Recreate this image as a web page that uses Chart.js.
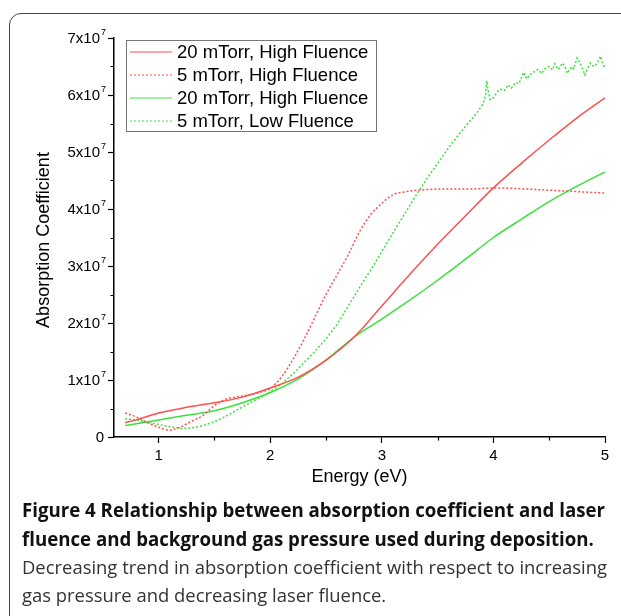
<!DOCTYPE html>
<html>
<head>
<meta charset="utf-8">
<script src="https://cdn.jsdelivr.net/npm/chart.js@4.4.1/dist/chart.umd.min.js"></script>
<style>
  html, body { margin: 0; padding: 0; background: #fff; width: 621px; height: 616px; overflow: hidden; }
  #frame { position: absolute; left: 9px; top: 13px; width: 700px; height: 700px; border: 1.5px solid #444; border-radius: 12px; box-sizing: border-box; }
  #wrap { position: absolute; left: 0; top: 0; width: 621px; height: 500px; }
  .cap { position: absolute; left: 22px; white-space: nowrap; transform-origin: 0 0; font-family: "Open Sans"; font-size: 19px; line-height: 20px; }
  .b { font-weight: 700; color: #111; }
  .n { font-weight: 400; color: #333; }
</style>
</head>
<body>
<div id="frame"></div>
<div id="wrap"><canvas id="chart" width="621" height="500"></canvas></div>
<div class="cap b" id="l1" style="top:500px">Figure 4 Relationship between absorption coefficient and laser</div>
<div class="cap b" id="l2" style="top:529px">fluence and background gas pressure used during deposition.</div>
<div class="cap n" id="l3" style="top:557px">Decreasing trend in absorption coefficient with respect to increasing</div>
<div class="cap n" id="l4" style="top:585px">gas pressure and decreasing laser fluence.</div>
<script>
// energy (eV) and absorption coefficient (x10^7)
const e20High = [0.7, 0.8, 1.0, 1.25, 1.5, 1.75, 2.0, 2.25, 2.5, 2.75, 3.0, 3.25, 3.5, 3.75, 4.0, 4.25, 4.5, 4.75, 5.0];
const a20High = [0.25, 0.3, 0.42, 0.52, 0.6, 0.7, 0.86, 1.05, 1.35, 1.75, 2.3, 2.85, 3.38, 3.88, 4.37, 4.8, 5.21, 5.6, 5.95];

const e5High = [0.7, 0.8, 0.9, 1.0, 1.1, 1.2, 1.3, 1.4, 1.5, 1.6, 1.75, 1.9, 2.0, 2.1, 2.2, 2.3, 2.4, 2.5, 2.6, 2.7, 2.8, 2.9, 3.0, 3.1, 3.2, 3.4, 3.6, 3.8, 4.0, 4.2, 4.4, 4.6, 4.8, 5.0];
const a5High = [0.42, 0.35, 0.25, 0.17, 0.12, 0.18, 0.28, 0.38, 0.55, 0.66, 0.72, 0.78, 0.85, 1.05, 1.35, 1.7, 2.1, 2.5, 2.85, 3.2, 3.6, 3.9, 4.1, 4.25, 4.3, 4.34, 4.35, 4.35, 4.37, 4.36, 4.34, 4.32, 4.3, 4.28];

const e20HighB = [0.7, 1.0, 1.25, 1.5, 1.75, 2.0, 2.25, 2.5, 2.75, 3.0, 3.25, 3.5, 3.75, 4.0, 4.25, 4.5, 4.75, 5.0];
const a20HighB = [0.2, 0.3, 0.38, 0.46, 0.6, 0.78, 1.02, 1.35, 1.75, 2.07, 2.4, 2.75, 3.12, 3.5, 3.82, 4.13, 4.4, 4.65];

const e5Low = [0.7, 0.8, 0.9, 1.0, 1.1, 1.2, 1.3, 1.4, 1.5, 1.6, 1.7, 1.8, 1.9, 2.0, 2.1, 2.2, 2.3, 2.4, 2.5, 2.6, 2.7, 2.8, 2.9, 3.0, 3.1, 3.2, 3.3, 3.4, 3.5, 3.6, 3.7, 3.8, 3.85, 3.88, 3.91, 3.93, 3.94, 3.95, 3.97, 4.0, 4.03, 4.06, 4.1, 4.13, 4.16, 4.2, 4.23, 4.25, 4.27, 4.3, 4.33, 4.36, 4.4, 4.43, 4.46, 4.5, 4.53, 4.55, 4.58, 4.62, 4.64, 4.66, 4.7, 4.72, 4.75, 4.78, 4.82, 4.84, 4.87, 4.9, 4.93, 4.96, 4.98, 5.0];
const a5Low = [0.32, 0.3, 0.26, 0.22, 0.18, 0.15, 0.16, 0.2, 0.27, 0.36, 0.47, 0.58, 0.68, 0.79, 0.93, 1.1, 1.3, 1.5, 1.72, 1.98, 2.3, 2.62, 2.93, 3.25, 3.58, 3.9, 4.22, 4.52, 4.8, 5.08, 5.33, 5.57, 5.68, 5.77, 5.85, 6.0, 6.25, 6.12, 5.92, 5.95, 6.05, 6.1, 6.08, 6.18, 6.12, 6.22, 6.2, 6.3, 6.4, 6.28, 6.36, 6.4, 6.45, 6.38, 6.46, 6.5, 6.44, 6.55, 6.45, 6.56, 6.5, 6.38, 6.5, 6.46, 6.65, 6.55, 6.35, 6.45, 6.56, 6.5, 6.55, 6.68, 6.55, 6.48];

const seriesLabels = ['20 mTorr, High Fluence', '5 mTorr, High Fluence', '20 mTorr, High Fluence', '5 mTorr, Low Fluence'];
const yTickValues = [0, 1, 2, 3, 4, 5, 6, 7];

const red = 'rgb(255,80,80)';
const green = 'rgb(60,225,60)';

function pts(xs, ys) {
  return xs.map((x, i) => ({ x: x, y: ys[i] * 1e7 }));
}

const datasets = [
  { label: seriesLabels[0], data: pts(e20High, a20High), borderColor: red, borderDash: [], cubicInterpolationMode: 'monotone' },
  { label: seriesLabels[1], data: pts(e5High, a5High), borderColor: red, borderDash: [2, 2], cubicInterpolationMode: 'monotone' },
  { label: seriesLabels[2], data: pts(e20HighB, a20HighB), borderColor: green, borderDash: [], cubicInterpolationMode: 'monotone' },
  { label: seriesLabels[3], data: pts(e5Low, a5Low), borderColor: green, borderDash: [2, 2], tension: 0 }
].map(d => Object.assign({ borderWidth: 1.5, pointRadius: 0, fill: false }, d));

const isMajor = v => Math.abs(v - Math.round(v)) < 1e-9;

// y tick labels with superscript, minor ticks, axis title and the boxed legend
const decorations = {
  id: 'decorations',
  afterDraw(chart) {
    const ctx = chart.ctx;
    const xs = chart.scales.x;
    const ys = chart.scales.y;
    const area = chart.chartArea;
    ctx.save();

    // short minor ticks
    ctx.strokeStyle = '#000';
    ctx.lineWidth = 1.2;
    ctx.beginPath();
    xs.ticks.forEach(t => {
      if (!isMajor(t.value) && t.value > xs.min) {
        const px = Math.round(xs.getPixelForValue(t.value)) + 0.5;
        ctx.moveTo(px, area.bottom);
        ctx.lineTo(px, area.bottom + 3.5);
      }
    });
    ys.ticks.forEach(t => {
      if (!isMajor(t.value / 1e7)) {
        const py = Math.round(ys.getPixelForValue(t.value)) + 0.5;
        ctx.moveTo(area.left, py);
        ctx.lineTo(area.left - 3.5, py);
      }
    });
    ctx.stroke();

    ctx.fillStyle = '#000';
    ctx.textBaseline = 'middle';
    yTickValues.forEach(v => {
      const py = ys.getPixelForValue(v * 1e7);
      ctx.textAlign = 'right';
      ctx.font = '15px "Liberation Sans"';
      if (v === 0) {
        ctx.fillText('0', 104, py + 1);
      } else {
        ctx.fillText(v + 'x10', 100, py + 1);
        ctx.textAlign = 'left';
        ctx.font = '9px "Liberation Sans"';
        ctx.fillText('7', 101, py - 5);
      }
    });

    ctx.save();
    ctx.translate(44, 240);
    ctx.rotate(-Math.PI / 2);
    ctx.textAlign = 'center';
    ctx.font = '18px "Liberation Sans"';
    ctx.fillText('Absorption Coefficient', 0, 0);
    ctx.restore();

    ctx.strokeStyle = '#777';
    ctx.lineWidth = 1;
    ctx.strokeRect(126.5, 40.5, 250, 91);
    ctx.font = '18.5px "Liberation Sans"';
    ctx.textAlign = 'left';
    chart.data.datasets.forEach((d, i) => {
      const y = 52 + 23 * i;
      ctx.beginPath();
      ctx.strokeStyle = d.borderColor;
      ctx.lineWidth = 1.2;
      ctx.setLineDash(d.borderDash);
      ctx.moveTo(130, y);
      ctx.lineTo(172, y);
      ctx.stroke();
      ctx.setLineDash([]);
      ctx.fillText(d.label, 177, y + 1);
    });
    ctx.restore();
  }
};

new Chart(document.getElementById('chart'), {
  type: 'line',
  data: { datasets: datasets },
  options: {
    responsive: false,
    animation: false,
    layout: { padding: { left: 0, right: 16, top: 38, bottom: 0 } },
    plugins: { legend: { display: false }, tooltip: { enabled: false } },
    scales: {
      x: {
        type: 'linear',
        min: 0.6,
        max: 5,
        border: { display: true, color: '#000', width: 1.5 },
        grid: {
          drawOnChartArea: false, drawTicks: true, tickLength: 6, tickWidth: 1.2,
          tickColor: c => (c.tick && isMajor(c.tick.value)) ? '#000' : 'rgba(0,0,0,0)'
        },
        ticks: {
          stepSize: 0.5, autoSkip: false, maxRotation: 0, padding: 4, color: '#000',
          font: { family: 'Liberation Sans', size: 15 },
          callback: v => Number.isInteger(v) ? String(v) : ''
        },
        title: { display: true, text: 'Energy (eV)', color: '#000', font: { family: 'Liberation Sans', size: 18 }, padding: { top: 0, bottom: 12 } },
        afterFit: s => { s.height = 63; }
      },
      y: {
        min: 0,
        max: 7e7,
        border: { display: true, color: '#000', width: 1.5 },
        grid: {
          drawOnChartArea: false, drawTicks: true, tickLength: 6, tickWidth: 1.2,
          tickColor: c => (c.tick && isMajor(c.tick.value / 1e7)) ? '#000' : 'rgba(0,0,0,0)'
        },
        ticks: { stepSize: 5e6, autoSkip: false, callback: () => '' },
        afterFit: s => { s.width = 114; }
      }
    }
  },
  plugins: [decorations]
});

// fit the caption lines to the printed widths
function fit(ids, target) {
  const first = document.getElementById(ids[0]);
  const k = target / first.getBoundingClientRect().width;
  ids.forEach(id => { document.getElementById(id).style.transform = 'scaleX(' + k + ')'; });
}
fit(['l1', 'l2'], 583);
fit(['l3', 'l4'], 585);
</script>
</body>
</html>
